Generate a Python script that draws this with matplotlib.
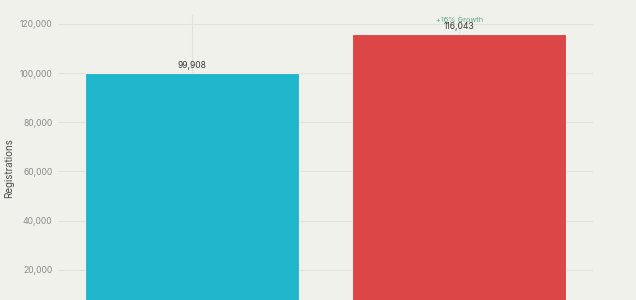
import numpy as np
from matplotlib import pyplot as plt

categories = ['Before', 'After']
registrations = [99908, 116043]
bar_colors = ['#20B7CC', '#DC4646']
growth_label = '+16% Growth'

plt.rcParams['font.family'] = ['Inter', 'DejaVu Sans']

fig = plt.figure(figsize=(6.36, 3.0), dpi=100)
fig.patch.set_facecolor('#F1F1EC')
# the plot area runs past the bottom edge of the picture
ax = fig.add_axes([58 / 636, -19 / 300, 535 / 636, 304 / 300])
ax.set_facecolor('#F1F1EC')

x = np.arange(len(categories))
bars = ax.bar(x, registrations, width=0.8, color=bar_colors,
              edgecolor='#F1F1EC', linewidth=0.8, zorder=3)

ax.set_xlim(-0.5, len(categories) - 0.5)
ax.set_ylim(0, 123600)
ax.set_yticks(np.arange(0, 120001, 20000))
ax.set_yticklabels([f'{v:,}' if v else '' for v in range(0, 120001, 20000)])
ax.set_xticks(x)
ax.set_xticklabels([])
ax.tick_params(axis='both', length=0, labelsize=6.2, labelcolor='#8a8a8a', pad=4)
ax.grid(True, color='#E2E2DC', linewidth=0.8, zorder=0)
for s in ax.spines.values():
    s.set_visible(False)

ax.set_ylabel('Registrations', fontsize=7, color='#4a4a4a')
ax.yaxis.set_label_coords(-44 / 535, (319 - 168) / 304)

for b, v in zip(bars, registrations):
    ax.annotate(f'{v:,}', (b.get_x() + b.get_width() / 2, v),
                xytext=(0, 2), textcoords='offset points',
                ha='center', va='bottom', fontsize=6.2, color='#3a3a3a', zorder=5)

ax.annotate(growth_label, (x[1], registrations[1]), xytext=(0, 7.5),
            textcoords='offset points', ha='center', va='bottom',
            fontsize=5.3, color='#5BA878', zorder=6)

fig.savefig('out.png', dpi=100, facecolor=fig.get_facecolor())
